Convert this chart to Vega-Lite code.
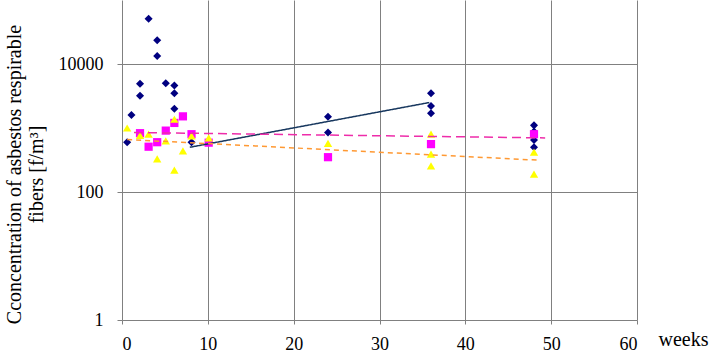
{
  "$schema": "https://vega.github.io/schema/vega-lite/v6.json",
  "width": 515,
  "height": 320,
  "autosize": "none",
  "padding": {"left": 122, "top": 0, "right": 72, "bottom": 36},
  "background": "white",
  "config": {
    "view": {"stroke": null},
    "font": "Liberation Serif",
    "axis": {"labelColor": "black", "titleColor": "black", "labelFont": "Liberation Serif", "titleFont": "Liberation Serif", "titleFontWeight": "normal"}
  },
  "datasets": {
    "points": [
      {"week": 0.6, "value": 600, "series": "A"},
      {"week": 1.1, "value": 1600, "series": "A"},
      {"week": 2.1, "value": 4900, "series": "A"},
      {"week": 2.1, "value": 3200, "series": "A"},
      {"week": 3.1, "value": 51000, "series": "A"},
      {"week": 4.1, "value": 23500, "series": "A"},
      {"week": 4.1, "value": 13300, "series": "A"},
      {"week": 5.1, "value": 5000, "series": "A"},
      {"week": 6.1, "value": 4600, "series": "A"},
      {"week": 6.1, "value": 3500, "series": "A"},
      {"week": 6.1, "value": 2000, "series": "A"},
      {"week": 8.1, "value": 600, "series": "A"},
      {"week": 24, "value": 1500, "series": "A"},
      {"week": 24, "value": 850, "series": "A"},
      {"week": 36, "value": 3500, "series": "A"},
      {"week": 36, "value": 2200, "series": "A"},
      {"week": 36, "value": 1700, "series": "A"},
      {"week": 48, "value": 1100, "series": "A"},
      {"week": 48, "value": 880, "series": "A"},
      {"week": 48, "value": 650, "series": "A"},
      {"week": 48, "value": 500, "series": "A"},
      {"week": 2.1, "value": 830, "series": "B"},
      {"week": 3.1, "value": 510, "series": "B"},
      {"week": 4.1, "value": 600, "series": "B"},
      {"week": 5.1, "value": 910, "series": "B"},
      {"week": 6.1, "value": 1200, "series": "B"},
      {"week": 7.1, "value": 1520, "series": "B"},
      {"week": 8.1, "value": 800, "series": "B"},
      {"week": 10.1, "value": 590, "series": "B"},
      {"week": 24, "value": 350, "series": "B"},
      {"week": 36, "value": 560, "series": "B"},
      {"week": 48, "value": 800, "series": "B"},
      {"week": 0.6, "value": 1000, "series": "C"},
      {"week": 2.1, "value": 770, "series": "C"},
      {"week": 3.1, "value": 800, "series": "C"},
      {"week": 4.1, "value": 330, "series": "C"},
      {"week": 5.1, "value": 630, "series": "C"},
      {"week": 6.1, "value": 220, "series": "C"},
      {"week": 6.1, "value": 1370, "series": "C"},
      {"week": 7.1, "value": 440, "series": "C"},
      {"week": 8.1, "value": 750, "series": "C"},
      {"week": 10.1, "value": 700, "series": "C"},
      {"week": 24, "value": 575, "series": "C"},
      {"week": 36, "value": 800, "series": "C"},
      {"week": 36, "value": 390, "series": "C"},
      {"week": 36, "value": 255, "series": "C"},
      {"week": 48, "value": 420, "series": "C"},
      {"week": 48, "value": 190, "series": "C"}
    ],
    "trend": [
      {"week": 7.9, "value": 500, "trend": "A"},
      {"week": 35.8, "value": 2500, "trend": "A"},
      {"week": 1.4, "value": 850, "trend": "B"},
      {"week": 49.3, "value": 700, "trend": "B"},
      {"week": 0.6, "value": 660, "trend": "C"},
      {"week": 48.3, "value": 315, "trend": "C"}
    ]
  },
  "encoding": {
    "x": {
      "field": "week",
      "type": "quantitative",
      "scale": {"domain": [0, 60], "nice": false, "zero": false},
      "axis": {
        "values": [0, 10, 20, 30, 40, 50, 60],
        "grid": true,
        "gridColor": "#808080",
        "gridOpacity": 1,
        "gridWidth": 1,
        "domain": false,
        "ticks": true,
        "tickSize": 4,
        "tickColor": "#808080",
        "labelFontSize": 18,
        "labelPadding": 11,
        "labelBaseline": "top",
        "title": "weeks",
        "titleFontSize": 20,
        "titleX": 536,
        "titleY": 25,
        "titleAlign": "left",
        "titleBaseline": "alphabetic",
        "titleAnchor": null
      }
    },
    "y": {
      "field": "value",
      "type": "quantitative",
      "scale": {"type": "log", "domain": [1, 100000], "nice": false},
      "axis": {
        "values": [1, 100, 10000],
        "format": "d",
        "grid": true,
        "gridColor": "#808080",
        "gridOpacity": 1,
        "gridWidth": 1,
        "domain": false,
        "tickSize": 5,
        "tickColor": "#808080",
        "labelFontSize": 18,
        "labelPadding": 14,
        "title": ["Cconcentration of asbestos respirable", "fibers [f/m³]"],
        "titleFontSize": 20,
        "titleLineHeight": 22,
        "titleX": -108,
        "titleY": 174,
        "titleAlign": "center",
        "titleBaseline": "middle",
        "titleAngle": 270
      }
    }
  },
  "layer": [
    {
      "data": {"name": "points"},
      "mark": {"type": "point", "filled": true, "opacity": 1},
      "encoding": {
        "color": {
          "field": "series",
          "type": "nominal",
          "scale": {"domain": ["A", "B", "C"], "range": ["#000080", "#FF00FF", "#FFFF00"]},
          "legend": null
        },
        "shape": {
          "field": "series",
          "type": "nominal",
          "scale": {"domain": ["A", "B", "C"], "range": ["diamond", "square", "triangle-up"]},
          "legend": null
        },
        "size": {
          "field": "series",
          "type": "nominal",
          "scale": {"domain": ["A", "B", "C"], "range": [65, 70, 75]},
          "legend": null
        }
      }
    },
    {
      "data": {"name": "trend"},
      "mark": {"type": "line", "strokeWidth": 1.5},
      "encoding": {
        "detail": {"field": "trend"},
        "stroke": {
          "field": "trend",
          "type": "nominal",
          "scale": {"domain": ["A", "B", "C"], "range": ["#17375E", "#EE2DAA", "#FF9933"]},
          "legend": null
        },
        "strokeDash": {
          "field": "trend",
          "type": "nominal",
          "scale": {"domain": ["A", "B", "C"], "range": [[1, 0], [9, 5], [5, 4]]},
          "legend": null
        }
      }
    }
  ]
}
